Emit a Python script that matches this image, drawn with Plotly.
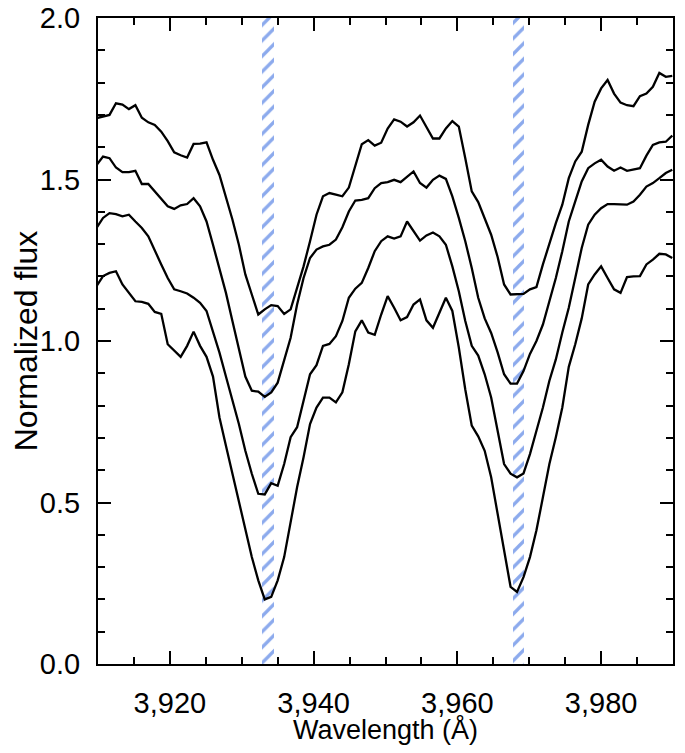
#%%
import plotly.graph_objects as go

# Ca II K and H line centres (Angstrom) marked by the hatched bands
ca_lines = [3933.66, 3968.47]

wavelength = [3909.8, 3910.7, 3911.6, 3912.5, 3913.4, 3914.3, 3915.2, 3916.1, 3917.0, 3917.9,
              3918.8, 3919.7, 3920.6, 3921.5, 3922.4, 3923.3, 3924.2, 3925.1, 3926.0, 3926.9,
              3927.8, 3928.7, 3929.6, 3930.5, 3931.4, 3932.3, 3933.2, 3934.1, 3935.0, 3935.9,
              3936.8, 3937.7, 3938.6, 3939.5, 3940.4, 3941.3, 3942.2, 3943.1, 3944.0, 3944.9,
              3945.8, 3946.7, 3947.6, 3948.5, 3949.4, 3950.3, 3951.2, 3952.1, 3953.0, 3953.9,
              3954.8, 3955.7, 3956.6, 3957.5, 3958.4, 3959.3, 3960.2, 3961.1, 3962.0, 3962.9,
              3963.8, 3964.7, 3965.6, 3966.5, 3967.4, 3968.3, 3969.2, 3970.1, 3971.0, 3971.9,
              3972.8, 3973.7, 3974.6, 3975.5, 3976.4, 3977.3, 3978.2, 3979.1, 3980.0, 3980.9,
              3981.8, 3982.7, 3983.6, 3984.5, 3985.4, 3986.3, 3987.2, 3988.1, 3989.0, 3989.9]

flux_1 = [1.690, 1.695, 1.700, 1.736, 1.732, 1.718, 1.730, 1.691, 1.677, 1.669,
          1.648, 1.619, 1.584, 1.575, 1.568, 1.610, 1.611, 1.615, 1.561, 1.514,
          1.448, 1.376, 1.298, 1.206, 1.144, 1.082, 1.098, 1.111, 1.108, 1.084,
          1.098, 1.165, 1.231, 1.309, 1.391, 1.448, 1.458, 1.453, 1.448, 1.475,
          1.540, 1.609, 1.622, 1.605, 1.614, 1.658, 1.686, 1.679, 1.664, 1.677,
          1.698, 1.664, 1.627, 1.627, 1.658, 1.681, 1.664, 1.566, 1.463, 1.430,
          1.380, 1.329, 1.260, 1.175, 1.144, 1.144, 1.146, 1.160, 1.167, 1.237,
          1.303, 1.365, 1.422, 1.504, 1.556, 1.586, 1.669, 1.741, 1.782, 1.808,
          1.766, 1.738, 1.730, 1.727, 1.758, 1.766, 1.787, 1.830, 1.818, 1.821]

flux_2 = [1.545, 1.571, 1.566, 1.537, 1.523, 1.523, 1.527, 1.486, 1.486, 1.463,
          1.442, 1.417, 1.409, 1.420, 1.424, 1.442, 1.417, 1.370, 1.298, 1.226,
          1.149, 1.062, 0.979, 0.890, 0.846, 0.843, 0.827, 0.841, 0.871, 0.940,
          1.010, 1.113, 1.195, 1.257, 1.283, 1.293, 1.298, 1.314, 1.352, 1.401,
          1.435, 1.437, 1.442, 1.473, 1.489, 1.492, 1.499, 1.492, 1.509, 1.525,
          1.489, 1.475, 1.499, 1.512, 1.502, 1.448, 1.381, 1.309, 1.226, 1.134,
          1.070, 1.025, 0.965, 0.897, 0.868, 0.868, 0.907, 0.960, 1.000, 1.051,
          1.123, 1.195, 1.278, 1.370, 1.432, 1.494, 1.535, 1.550, 1.561, 1.540,
          1.527, 1.537, 1.527, 1.530, 1.535, 1.574, 1.607, 1.615, 1.617, 1.636]

flux_3 = [1.350, 1.381, 1.396, 1.393, 1.386, 1.391, 1.370, 1.350, 1.324, 1.283,
          1.237, 1.195, 1.160, 1.154, 1.147, 1.134, 1.118, 1.093, 1.031, 0.964,
          0.890, 0.820, 0.743, 0.660, 0.589, 0.527, 0.525, 0.560, 0.552, 0.619,
          0.702, 0.733, 0.815, 0.897, 0.925, 0.985, 0.991, 1.015, 1.062, 1.134,
          1.162, 1.180, 1.226, 1.278, 1.309, 1.324, 1.317, 1.324, 1.370, 1.340,
          1.311, 1.327, 1.336, 1.324, 1.298, 1.231, 1.154, 1.062, 0.985, 0.955,
          0.897, 0.825, 0.722, 0.619, 0.589, 0.578, 0.590, 0.650, 0.722, 0.794,
          0.877, 0.943, 1.026, 1.103, 1.195, 1.288, 1.360, 1.391, 1.411, 1.424,
          1.424, 1.424, 1.422, 1.432, 1.453, 1.478, 1.489, 1.504, 1.520, 1.530]

flux_4 = [1.170, 1.201, 1.211, 1.216, 1.175, 1.149, 1.123, 1.121, 1.115, 1.090,
          1.084, 0.990, 0.969, 0.951, 0.985, 1.029, 0.985, 0.951, 0.890, 0.763,
          0.676, 0.589, 0.496, 0.414, 0.331, 0.259, 0.200, 0.208, 0.259, 0.331,
          0.440, 0.547, 0.640, 0.743, 0.794, 0.825, 0.825, 0.810, 0.841, 0.928,
          1.030, 1.064, 1.026, 1.019, 1.082, 1.139, 1.103, 1.064, 1.074, 1.113,
          1.129, 1.064, 1.041, 1.087, 1.134, 1.093, 0.980, 0.850, 0.738, 0.705,
          0.660, 0.578, 0.465, 0.362, 0.239, 0.223, 0.269, 0.331, 0.414, 0.516,
          0.619, 0.702, 0.794, 0.920, 0.990, 1.070, 1.175, 1.206, 1.231, 1.195,
          1.160, 1.149, 1.198, 1.200, 1.201, 1.237, 1.252, 1.270, 1.268, 1.257]

#%%
fig = go.Figure()

# hatched bands at the Ca II line centres
fig.add_trace(go.Bar(x=ca_lines, y=[2, 2], width=1.6,
                     marker=dict(color="rgba(0,0,0,0)", line=dict(width=0),
                                 pattern=dict(shape="/", fgcolor="#1a56db",
                                              bgcolor="rgba(0,0,0,0)",
                                              size=11, solidity=0.3)),
                     hoverinfo="skip", showlegend=False))

for flux in [flux_1, flux_2, flux_3, flux_4]:
    fig.add_trace(go.Scatter(x=wavelength, y=flux, mode="lines",
                             line=dict(color="black", width=2.3),
                             hoverinfo="skip", showlegend=False))

axis_common = dict(showline=True, linecolor="black", linewidth=2, mirror="allticks",
                   ticks="inside", tickcolor="black", tickwidth=2, ticklen=13,
                   showgrid=False, zeroline=False, automargin=False,
                   ticklabeloverflow="allow",
                   tickfont=dict(size=29, color="black"))

fig.update_xaxes(range=[3910, 3990], tickvals=[3920, 3940, 3960, 3980],
                 tickformat=",d", ticklabelstandoff=12,
                 minor=dict(dtick=5, tick0=3910, ticks="inside", ticklen=7,
                            tickwidth=2, tickcolor="black"),
                 title=dict(text="Wavelength (Å)", font=dict(size=27, color="black"),
                            standoff=12),
                 **axis_common)
fig.update_yaxes(range=[0, 2], dtick=0.5, tickformat=".1f", ticklabelstandoff=10,
                 minor=dict(dtick=0.1, ticks="inside", ticklen=7,
                            tickwidth=2, tickcolor="black"),
                 title=dict(text="Normalized flux", font=dict(size=32, color="black"),
                            standoff=20),
                 **axis_common)

# the page body adds an 8px border, so the figure is sized to fit inside the window
fig.update_layout(width=669, height=737,
                  margin=dict(l=90, r=4, t=10, b=81),
                  plot_bgcolor="white", paper_bgcolor="white",
                  font=dict(family="Liberation Sans, Arial, sans-serif", color="black"),
                  hovermode=False,
                  barmode="overlay", bargap=0)

fig.write_html("out.html")
